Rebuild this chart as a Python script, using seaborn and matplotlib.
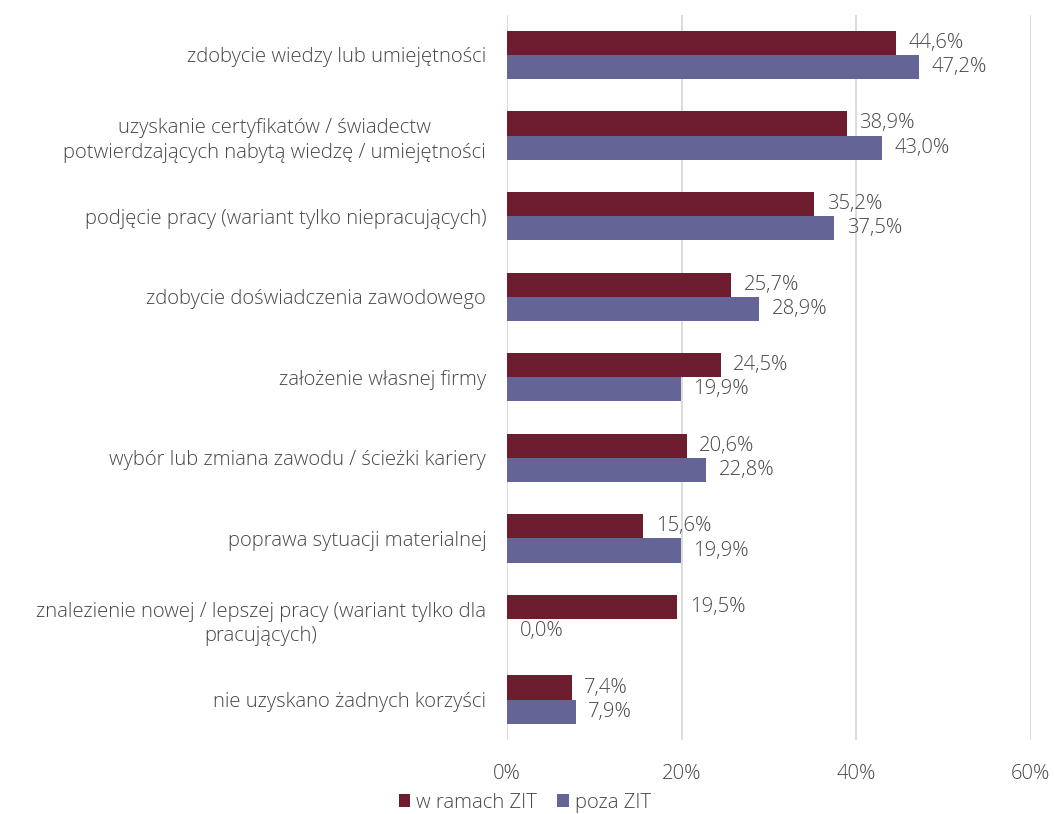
import matplotlib
matplotlib.use("Agg")
import matplotlib.pyplot as plt
import pandas as pd
import seaborn as sns

categories = [
    "zdobycie wiedzy lub umiejętności",
    "uzyskanie certyfikatów / świadectw\npotwierdzających nabytą wiedzę / umiejętności",
    "podjęcie pracy (wariant tylko niepracujących)",
    "zdobycie doświadczenia zawodowego",
    "założenie własnej firmy",
    "wybór lub zmiana zawodu / ścieżki kariery",
    "poprawa sytuacji materialnej",
    "znalezienie nowej / lepszej pracy (wariant tylko dla\npracujących)",
    "nie uzyskano żadnych korzyści",
]
w_ramach_zit = [44.6, 38.9, 35.2, 25.7, 24.5, 20.6, 15.6, 19.5, 7.4]
poza_zit = [47.2, 43.0, 37.5, 28.9, 19.9, 22.8, 19.9, 0.0, 7.9]
series = ["w ramach ZIT", "poza ZIT"]
xticks = [0, 20, 40, 60]

df = pd.DataFrame({
    "kategoria": categories * 2,
    "seria": [series[0]] * len(categories) + [series[1]] * len(categories),
    "wartosc": w_ramach_zit + poza_zit,
})

sns.set_style("white")
plt.rcParams["font.family"] = ["Open Sans", "DejaVu Sans"]
plt.rcParams["font.weight"] = "light"
text_color = "#474747"
fs = 14.6
palette = {series[0]: "#6D1D2D", series[1]: "#646496"}

fig = plt.figure(figsize=(10.54, 8.14), dpi=100)
ax = fig.add_axes([0.481, 0.091, 0.497, 0.891])

sns.barplot(data=df, y="kategoria", x="wartosc", hue="seria", order=categories,
            hue_order=series, palette=palette, orient="h", width=0.6,
            saturation=1, linewidth=0, ax=ax, legend=True)

for cont in ax.containers:
    labels = [f"{v:.1f}%".replace(".", ",") for v in cont.datavalues]
    ax.bar_label(cont, labels=labels, padding=9, fontsize=fs, color=text_color)

ax.set_xlim(0, 60)
ax.set_ylim(8.5, -0.5)
ax.set_xticks(xticks)
ax.set_xticklabels([f"{t}%" for t in xticks])
ax.tick_params(axis="x", length=0, pad=17, labelsize=fs, labelcolor=text_color)
ax.tick_params(axis="y", length=0, pad=15, labelsize=fs, labelcolor=text_color)
for lbl in ax.get_yticklabels():
    lbl.set_multialignment("center")
    lbl.set_linespacing(1.3)
ax.set_xlabel("")
ax.set_ylabel("")
ax.grid(axis="x", color="#D9D9D9", linewidth=1.3)
ax.set_axisbelow(True)
for s in ax.spines.values():
    s.set_visible(False)

handles, labs = ax.get_legend_handles_labels()
ax.legend(handles, labs, loc="center", bbox_to_anchor=(0.498, 0.014),
          bbox_transform=fig.transFigure, ncol=2, frameon=False, fontsize=fs,
          labelcolor=text_color, handlelength=0.55, handleheight=0.55,
          handletextpad=0.3, columnspacing=1.0)

fig.savefig("out.png", dpi=100)
